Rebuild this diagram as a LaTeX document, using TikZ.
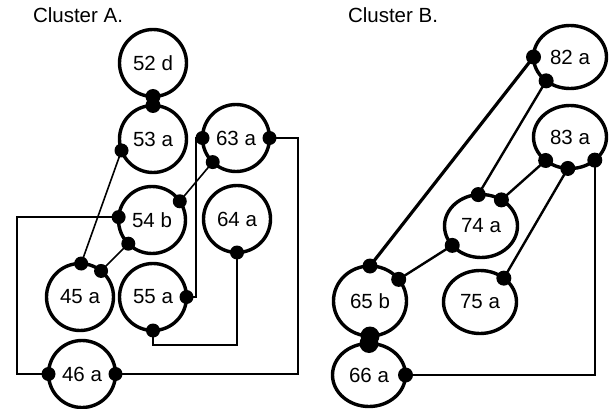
\documentclass[tikz,border=0pt]{standalone}
\usepackage{fontspec}
\setmainfont{Liberation Sans}
\usetikzlibrary{shapes.geometric}
\begin{document}
\begin{tikzpicture}[x=1pt,y=-1pt,
  lbl/.style={font=\fontsize{20.5}{23}\selectfont},
  ca/.style={circle,draw,line width=3.4pt,minimum size=67pt,inner sep=0pt,outer sep=0pt,lbl},
  cb/.style={ellipse,draw,line width=3.4pt,minimum width=73pt,minimum height=63pt,inner sep=0pt,outer sep=0pt,lbl},
  linka/.style={line width=1.6pt},
  linkb/.style={line width=2.4pt},
  linkbb/.style={line width=3.2pt},
  dotr/.style={fill=black}]
\useasboundingbox (0,0) rectangle (613,409);
% titles
\node[lbl] (ta) at (78,15) {Cluster A.};
\node[lbl] (tb) at (393,15) {Cluster B.};
% cluster A
\node[ca] (A52) at (153,63) {52 d};
\node[ca] (A53) at (153,139) {53 a};
\node[ca] (A63) at (236,138) {63 a};
\node[ca] (A54) at (152,220) {54 b};
\node[ca] (A64) at (237,219) {64 a};
\node[ca] (A45) at (80,297) {45 a};
\node[ca] (A55) at (153,297) {55 a};
\node[ca] (A46) at (82,374) {46 a};
\coordinate (xa1) at (196,0);
\coordinate (xa2) at (298,0);
\coordinate (xa3) at (17,0);
\coordinate (ya1) at (0,345);
% junction 52d-53a
\draw[line width=10pt] (A52.south) -- (A53.north);
\fill[dotr] (A52.south) circle (7.5);
\fill[dotr] (A53.north) circle (7.5);
% links A
\draw[linka] (A53.200) -- (A45.88);
\draw[linka] (A54.225) -- (A45.51);
\draw[linka] (A63.226) -- (A54.34);
\draw[linka] (A63.west) -- (A63.west -| xa1) -- (xa1 |- A55.east) -- (A55.east);
\draw[linka] (A63.east) -- (A63.east -| xa2) -- (xa2 |- A46.east) -- (A46.east);
\draw[linka] (A54.175) -- (A54.175 -| xa3) -- (xa3 |- A46.west) -- (A46.west);
\draw[linka] (A55.south) -- (A55.south |- ya1) -- (A64.south |- ya1) -- (A64.south);
\foreach \p in {A53.200,A45.88,A54.225,A45.51,A63.226,A54.34,A63.west,A55.east,A63.east,A46.east,A54.175,A46.west,A55.south,A64.south}
  \fill[dotr] (\p) circle (7);
% cluster B
\node[cb] (B82) at (570,57) {82 a};
\node[cb] (B83) at (570,137) {83 a};
\node[cb] (B74) at (481,226) {74 a};
\node[cb] (B75) at (480,302) {75 a};
\node[cb,minimum height=70pt] (B65) at (370,301) {65 b};
\node[cb] (B66) at (369,375) {66 a};
% junction 65b-66a
\draw[line width=15pt] (B65.south) -- (B66.north);
\fill[dotr] (B65.south) circle (9.5);
\fill[dotr] (B66.north) circle (9.5);
% links B
\draw[linkbb] (B82.west) -- (B65.90);
\draw[linkb] (B82.225) -- (B74.95);
\draw[linkb] (B83.224) -- (B74.52);
\draw[linkb] (B83.266) -- (B75.45);
\draw[linkb] (B74.214) -- (B65.37);
\draw[linkb] (B83.317) -- (B83.317 |- B66.east) -- (B66.east);
\foreach \p in {B82.west,B65.90,B82.225,B74.95,B83.224,B74.52,B83.266,B75.45,B74.214,B65.37,B83.317,B66.east}
  \fill[dotr] (\p) circle (7.5);
\end{tikzpicture}
\end{document}
